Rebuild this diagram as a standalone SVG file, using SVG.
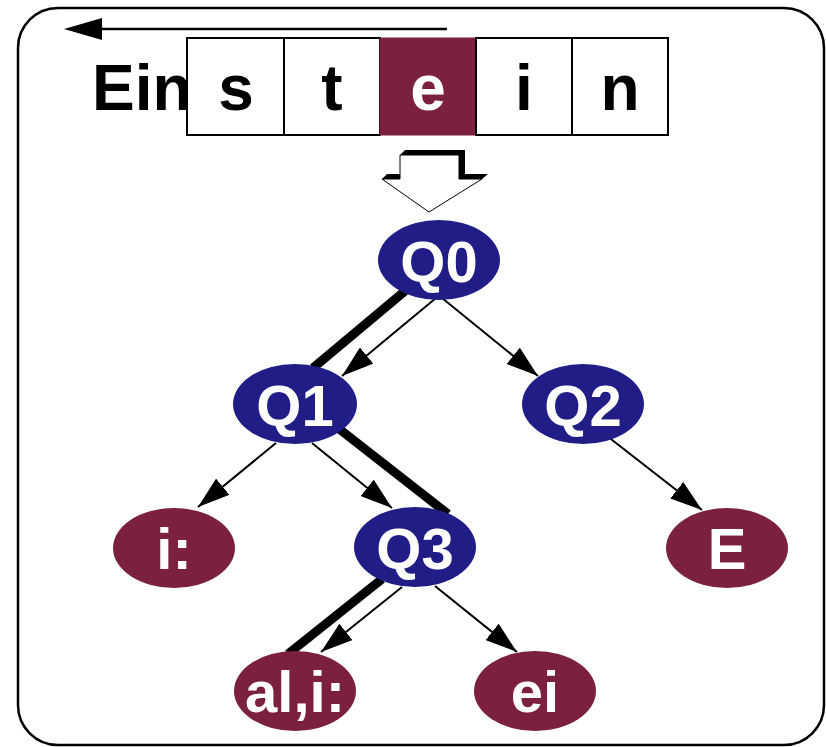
<svg xmlns="http://www.w3.org/2000/svg" width="826" height="747" viewBox="0 0 826 747">
<style>
.box{fill:#fff;stroke:#000;stroke-width:2}
.big{font-family:"Liberation Sans",Arial,sans-serif;font-weight:bold;font-size:64px;fill:#000;text-anchor:middle}
.lbl{font-family:"Liberation Sans",Arial,sans-serif;font-weight:bold;font-size:58px;fill:#fff;text-anchor:middle}
.blue{fill:#211D87}
.red{fill:#7B213F}
.thin{stroke:#000;stroke-width:2;fill:none;marker-end:url(#ah)}
.thick{stroke:#000;stroke-width:9;fill:none}
</style>
<defs>
<marker id="ah" markerWidth="32" markerHeight="21" refX="32" refY="10.5" orient="auto" markerUnits="userSpaceOnUse" viewBox="0 0 32 21">
<path d="M0,0 L32,10.5 L0,21 Z" fill="#000"/>
</marker>
</defs>
<rect x="18" y="8" width="806" height="737" rx="40" ry="40" fill="#fff" stroke="#000" stroke-width="2.5"/>
<g id="direction">
<line x1="447" y1="29" x2="98" y2="29" stroke="#000" stroke-width="2.5"/>
<path d="M64,29 L102,18 L102,40 Z" fill="#000"/>
</g>
<g id="word">
<text x="92" y="110" class="big" style="text-anchor:start">Ein</text>
<rect class="box" x="187" y="38" width="97" height="97"/>
<rect class="box" x="284" y="38" width="96" height="97"/>
<rect x="380" y="38" width="96" height="97" fill="#7B213F" stroke="#7B213F" stroke-width="1"/>
<rect class="box" x="476" y="38" width="96" height="97"/>
<rect class="box" x="572" y="38" width="96" height="97"/>
<text x="236" y="110" class="big">s</text>
<text x="332" y="110" class="big">t</text>
<text x="428" y="110" class="big" style="fill:#fff">e</text>
<text x="524" y="110" class="big">i</text>
<text x="620" y="110" class="big">n</text>
</g>
<g id="input-arrow">
<path d="M400,155 L405,150 L465,150 L465,174 L488,174 L482,179 L459,179 L459,155 Z" fill="#000"/>
<path d="M382,179 L387,174 L400,174 L400,179 Z" fill="#000"/>
<path d="M400,155 L459,155 L459,179 L482,179 L429,212 L382,179 L400,179 Z" fill="#fff" stroke="#000" stroke-width="1"/>
</g>
<g id="connectors">
<line class="thick" x1="405" y1="291" x2="313" y2="368"/>
<line class="thick" x1="338" y1="428" x2="448" y2="514"/>
<line class="thick" x1="382" y1="579" x2="288" y2="654"/>
<line class="thin" x1="436" y1="298" x2="342" y2="376"/>
<line class="thin" x1="442" y1="298" x2="538" y2="376"/>
<line class="thin" x1="276" y1="443" x2="198" y2="507"/>
<line class="thin" x1="312" y1="443" x2="392" y2="508"/>
<line class="thin" x1="607" y1="436" x2="702" y2="510"/>
<line class="thin" x1="402" y1="587" x2="321" y2="652"/>
<line class="thin" x1="435" y1="586" x2="517" y2="652"/>
</g>
<g id="Q0"><ellipse class="blue" cx="439" cy="260" rx="61" ry="40"/><text class="lbl" x="439" y="282">Q0</text></g>
<g id="Q1"><ellipse class="blue" cx="295" cy="404" rx="62" ry="40"/><text class="lbl" x="295" y="426">Q1</text></g>
<g id="Q2"><ellipse class="blue" cx="583" cy="404" rx="61" ry="40"/><text class="lbl" x="583" y="426">Q2</text></g>
<g id="Q3"><ellipse class="blue" cx="415" cy="547" rx="61" ry="40"/><text class="lbl" x="415" y="569">Q3</text></g>
<g id="i"><ellipse class="red" cx="174" cy="548" rx="61" ry="40"/><text class="lbl" x="174" y="569">i:</text></g>
<g id="E"><ellipse class="red" cx="727" cy="548" rx="61" ry="40"/><text class="lbl" x="727" y="569">E</text></g>
<g id="ali"><ellipse class="red" cx="295" cy="691" rx="61" ry="40"/><text class="lbl" x="295" y="712">al,i:</text></g>
<g id="ei"><ellipse class="red" cx="535" cy="691" rx="61" ry="40"/><text class="lbl" x="535" y="712">ei</text></g>
</svg>
